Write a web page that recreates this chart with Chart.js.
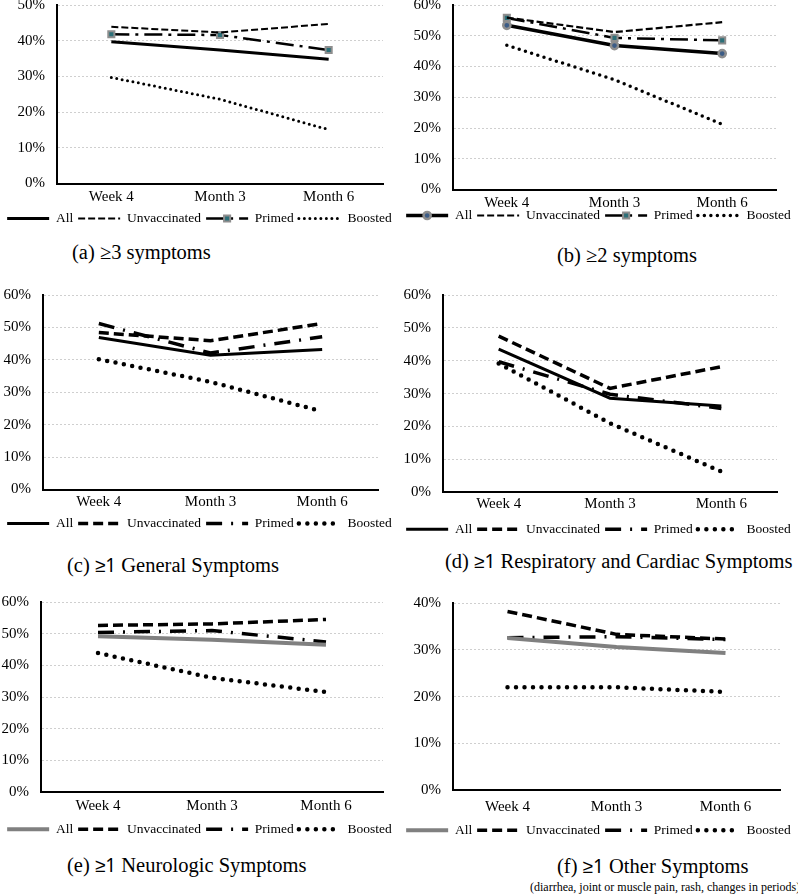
<!DOCTYPE html>
<html>
<head>
<meta charset="utf-8">
<script src="https://cdn.jsdelivr.net/npm/chart.js@4.4.1/dist/chart.umd.min.js"></script>
<style>
  body { margin: 0; background: #fff; width: 798px; height: 894px; position: relative; overflow: hidden; font-family: 'Liberation Serif', serif; }
  canvas { position: absolute; }
  .cap { position: absolute; font-size: 20.5px; line-height: 24px; white-space: nowrap; color: #000; }
  .sub { position: absolute; font-size: 12px; line-height: 14px; white-space: nowrap; color: #000; }
  .sym { font-family: 'Noto Sans', sans-serif; font-size: 19px; }
</style>
</head>
<body>
<canvas id="a"></canvas>
<canvas id="b"></canvas>
<canvas id="c"></canvas>
<canvas id="d"></canvas>
<canvas id="e"></canvas>
<canvas id="f"></canvas>
<div class="cap" style="left:72px; top:240px;">(a) ≥3 symptoms</div>
<div class="cap" style="left:557px; top:243px;">(b) ≥2 symptoms</div>
<div class="cap" style="left:67px; top:553px;">(c) <span class="sym">≥1</span> General Symptoms</div>
<div class="cap" style="left:445px; top:549px;">(d) <span class="sym">≥1</span> Respiratory and Cardiac Symptoms</div>
<div class="cap" style="left:67px; top:853px;">(e) <span class="sym">≥1</span> Neurologic Symptoms</div>
<div class="cap" style="left:557px; top:854px;">(f) <span class="sym">≥1</span> Other Symptoms</div>
<div class="sub" style="left:530px; top:880px;">(diarrhea, joint or muscle pain, rash, changes in periods)</div>
<script>
const categories = ['Week 4', 'Month 3', 'Month 6'];
const seriesNames = ['All', 'Unvaccinated', 'Primed', 'Boosted'];

// (a) >=3 symptoms
const aAll = [39.7, 37.4, 34.8];
const aUnvaccinated = [43.9, 42.3, 44.7];
const aPrimed = [41.8, 41.6, 37.4];
const aBoosted = [29.7, 23.6, 15.1];

// (b) >=2 symptoms
const bAll = [53.4, 46.8, 44.2];
const bUnvaccinated = [55.9, 51.2, 54.4];
const bPrimed = [55.8, 49.3, 48.5];
const bBoosted = [46.9, 35.7, 21.2];

// (c) general
const cAll = [46.9, 41.4, 43.2];
const cUnvaccinated = [48.4, 45.9, 51.2];
const cPrimed = [51.2, 42.1, 47.1];
const cBoosted = [40.2, 33.2, 24.1];

// (d) respiratory and cardiac
const dAll = [43.5, 28.6, 26.2];
const dUnvaccinated = [47.5, 31.6, 38.2];
const dPrimed = [39.7, 29.8, 25.5];
const dBoosted = [39.2, 21.0, 6.3];

// (e) neurologic
const eAll = [49.2, 48.1, 46.5];
const eUnvaccinated = [52.6, 53.1, 54.5];
const ePrimed = [50.4, 51.0, 47.4];
const eBoosted = [43.9, 36.1, 31.6];

// (f) other
const fAll = [32.5, 30.6, 29.3];
const fUnvaccinated = [38.2, 33.3, 32.3];
const fPrimed = [32.6, 32.8, 32.2];
const fBoosted = [22.0, 22.0, 21.0];

// y axis maximum per panel (ticks every 10%)
const yMaxes = [50, 60, 60, 60, 60, 40];

Chart.defaults.font.family = "'Liberation Serif', serif";
Chart.defaults.color = '#000';

// line looks: thin for (a)/(b), heavy for (c)-(f)
const thinStyle = [
  {borderWidth: 3, borderDash: []},
  {borderWidth: 2, borderDash: [7, 3]},
  {borderWidth: 2.5, borderDash: [18, 6, 3, 6]},
  {borderWidth: 3, borderDash: [0, 5.5], borderCapStyle: 'round'}
];
const thinStyleB = [
  {borderWidth: 3.5, borderDash: []},
  {borderWidth: 2.2, borderDash: [7, 3]},
  {borderWidth: 2.5, borderDash: [18, 6, 3, 6]},
  {borderWidth: 3.5, borderDash: [0, 6.5], borderCapStyle: 'round'}
];
const heavyStyle = [
  {borderWidth: 3, borderDash: []},
  {borderWidth: 3.5, borderDash: [10, 5]},
  {borderWidth: 3.5, borderDash: [16, 9, 2, 9]},
  {borderWidth: 4.5, borderDash: [0, 8.5], borderCapStyle: 'round'}
];
const rectMarker = {pointStyle: 'rect', pointRadius: 4.3, backgroundColor: '#2c6f78', pointBorderColor: '#8e8e8e', pointBorderWidth: 2};
const circleMarker = {pointStyle: 'circle', pointRadius: 3.6, backgroundColor: '#3c5c86', pointBorderColor: '#8e8e8e', pointBorderWidth: 2.5};

const panels = [
  {id: 'a', left: 0, plotL: 57, plotR: 383, top: 5, bottom: 183, tickY: 198, legendY: 218,
   series: [aAll, aUnvaccinated, aPrimed, aBoosted], style: thinStyle, markers: [null, null, rectMarker, null], allColor: '#000'},
  {id: 'b', left: 399, plotL: 453, plotR: 776, top: 5, bottom: 189, tickY: 204, legendY: 215,
   series: [bAll, bUnvaccinated, bPrimed, bBoosted], style: thinStyleB, markers: [circleMarker, null, rectMarker, null], allColor: '#000'},
  {id: 'c', left: 0, plotL: 43, plotR: 378, top: 295, bottom: 489, tickY: 503, legendY: 523,
   series: [cAll, cUnvaccinated, cPrimed, cBoosted], style: heavyStyle, markers: [], allColor: '#000'},
  {id: 'd', left: 399, plotL: 443, plotR: 777, top: 295, bottom: 492, tickY: 505, legendY: 529,
   series: [dAll, dUnvaccinated, dPrimed, dBoosted], style: heavyStyle, markers: [], allColor: '#000'},
  {id: 'e', left: 0, plotL: 41, plotR: 383, top: 602, bottom: 792, tickY: 807, legendY: 829,
   series: [eAll, eUnvaccinated, ePrimed, eBoosted], style: heavyStyle, markers: [], allColor: '#808080', allWidth: 4},
  {id: 'f', left: 399, plotL: 453, plotR: 780, top: 603, bottom: 790, tickY: 808, legendY: 830,
   series: [fAll, fUnvaccinated, fPrimed, fBoosted], style: heavyStyle, markers: [], allColor: '#808080', allWidth: 4}
];

// legend entries taken from the line style of each dataset (not its point style)
function lineLabels(chart) {
  return chart.data.datasets.map((ds, i) => ({
    text: ds.label,
    datasetIndex: i,
    hidden: false,
    fontColor: '#000',
    fillStyle: ds.borderColor,
    strokeStyle: ds.borderColor,
    lineWidth: ds.borderWidth,
    lineDash: ds.borderDash,
    lineCap: ds.borderCapStyle,
    pointStyle: 'line'
  }));
}

const padTop = 24, legendPad = 5, legendFont = 13.5, canvasW = 399;

// pulls the legend up when it sits closer to the tick labels than the layout allows
const legendShift = {
  id: 'legendShift',
  afterLayout(chart, args, opts) {
    if (!opts.shift) return;
    chart.legend.top -= opts.shift;
    chart.legend.bottom -= opts.shift;
  }
};

// draws the point marker in the middle of the legend line sample
const legendMarkers = {
  id: 'legendMarkers',
  afterDraw(chart) {
    const ctx = chart.ctx;
    const boxes = chart.legend.legendHitBoxes;
    const y = chart.legend.top + legendPad + legendFont / 2;
    chart.data.datasets.forEach((ds, i) => {
      if (!ds.pointRadius) return;
      const x = boxes[i].left + 21;
      const r = ds.pointRadius;
      ctx.save();
      ctx.setLineDash([]);
      ctx.fillStyle = ds.backgroundColor;
      ctx.strokeStyle = ds.pointBorderColor;
      ctx.lineWidth = ds.pointBorderWidth;
      ctx.beginPath();
      if (ds.pointStyle === 'rect') {
        const s = r * Math.SQRT1_2;
        ctx.rect(x - s, y - s, 2 * s, 2 * s);
      } else {
        ctx.arc(x, y, r, 0, Math.PI * 2);
      }
      ctx.fill();
      ctx.stroke();
      ctx.restore();
    });
  }
};

panels.forEach((p, k) => {
  const legendTop = p.legendY - legendPad - legendFont / 2;
  const labelsBottom = p.tickY + 9;
  const xAxisH = Math.max(legendTop, labelsBottom) - p.bottom;
  const shift = Math.max(0, labelsBottom - legendTop);
  const legendH = legendFont + legendPad + 10;
  const h = padTop + (p.bottom - p.top) + xAxisH + legendH;
  const cv = document.getElementById(p.id);
  cv.width = canvasW;
  cv.height = Math.round(h);
  cv.style.left = p.left + 'px';
  cv.style.top = (p.top - padTop) + 'px';

  const datasets = seriesNames.map((name, i) => {
    const ds = Object.assign({
      label: name,
      data: p.series[i],
      borderColor: i === 0 ? p.allColor : '#000',
      fill: false,
      tension: 0,
      pointRadius: 0,
      borderCapStyle: 'butt'
    }, p.style[i]);
    if (i === 0 && p.allWidth) ds.borderWidth = p.allWidth;
    if (p.markers[i]) Object.assign(ds, p.markers[i]);
    return ds;
  });

  new Chart(cv, {
    type: 'line',
    data: {labels: categories, datasets: datasets},
    options: {
      responsive: false,
      animation: false,
      events: [],
      layout: {padding: {top: padTop, left: 0, right: 0, bottom: 0}},
      plugins: {
        legend: {
          position: 'bottom',
          labels: {
            usePointStyle: true,
            pointStyleWidth: 42,
            padding: legendPad,
            font: {size: legendFont},
            color: '#000',
            generateLabels: lineLabels
          }
        },
        legendShift: {shift: shift},
        tooltip: {enabled: false}
      },
      scales: {
        x: {
          offset: true,
          grid: {display: false, drawTicks: false},
          border: {display: true, color: '#000', width: 2},
          ticks: {padding: p.tickY - p.bottom - 10, font: {size: 15}, color: '#000', maxRotation: 0},
          afterFit: s => { s.height = xAxisH; }
        },
        y: {
          min: 0,
          max: yMaxes[k],
          grid: {color: '#cfcfcf', lineWidth: 1, drawTicks: false},
          border: {display: true, color: '#000', width: 2, dash: [2, 2]},
          ticks: {stepSize: 10, padding: 12, font: {size: 15}, color: '#000', callback: v => v + '%'},
          afterFit: s => { s.width = p.plotL - p.left; }
        },
        yR: {
          type: 'linear',
          position: 'right',
          display: true,
          grid: {display: false, drawTicks: false},
          border: {display: false},
          ticks: {display: false},
          afterFit: s => { s.width = p.left + canvasW - p.plotR; }
        }
      }
    },
    plugins: [legendShift, legendMarkers]
  });
});
</script>
</body>
</html>
